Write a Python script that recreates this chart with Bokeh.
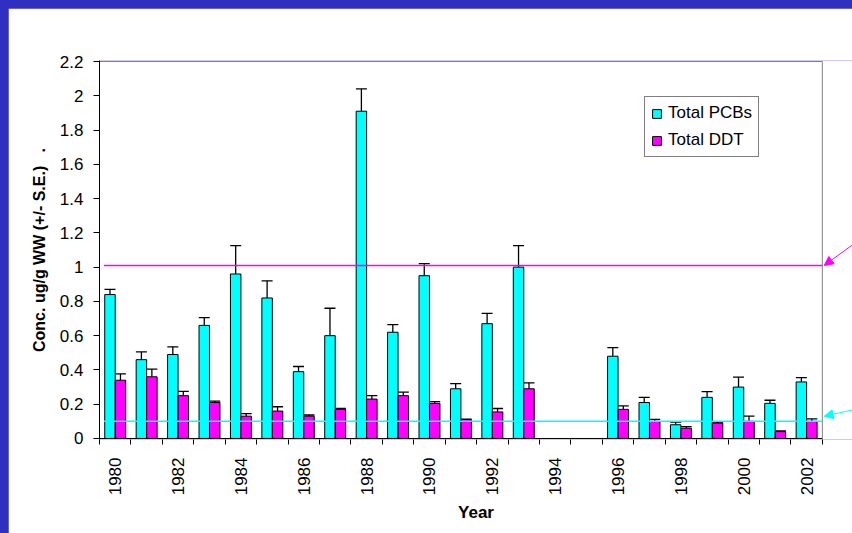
import math
from bokeh.plotting import figure
from bokeh.models import (Range1d, FixedTicker, Arrow, NormalHead, TeeHead, Whisker,
                          ColumnDataSource, GlobalInlineStyleSheet)
from bokeh.transform import dodge
from bokeh.embed import file_html
from bokeh.resources import INLINE

# ---------------- data ----------------
years = [1980, 1981, 1982, 1983, 1984, 1985, 1986, 1987, 1988, 1989, 1990,
         1991, 1992, 1993, 1996, 1997, 1998, 1999, 2000, 2001, 2002]
pcb = [0.84, 0.46, 0.49, 0.66, 0.96, 0.82, 0.39, 0.60, 1.91, 0.62, 0.95,
       0.29, 0.67, 1.00, 0.48, 0.21, 0.08, 0.24, 0.30, 0.205, 0.33]
pcb_se = [0.03, 0.045, 0.045, 0.045, 0.165, 0.10, 0.03, 0.16, 0.13, 0.045, 0.07,
          0.03, 0.06, 0.125, 0.05, 0.03, 0.015, 0.033, 0.058, 0.018, 0.025]
ddt = [0.34, 0.36, 0.25, 0.21, 0.13, 0.16, 0.13, 0.17, 0.23, 0.25, 0.205,
       0.11, 0.155, 0.29, 0.17, 0.10, 0.06, 0.09, 0.10, 0.04, 0.10]
ddt_se = [0.037, 0.045, 0.025, 0.008, 0.015, 0.025, 0.007, 0.006, 0.02, 0.02, 0.01,
          0.003, 0.02, 0.035, 0.02, 0.012, 0.009, 0.006, 0.03, 0.004, 0.014]

axis_years = list(range(1980, 2003))
label_years = [1980, 1982, 1984, 1986, 1988, 1990, 1992, 1994, 1996, 1998, 2000, 2002]
y_ticks = [0, 0.2, 0.4, 0.6, 0.8, 1, 1.2, 1.4, 1.6, 1.8, 2, 2.2]
y_tick_labels = ["0", "0.2", "0.4", "0.6", "0.8", "1", "1.2", "1.4", "1.6", "1.8", "2", "2.2"]
guide_levels = [1.01, 0.10]
series_names = ["Total PCBs", "Total DDT"]

CYAN = "#00FFFF"
MAGENTA = "#FF00FF"
FONT = "Liberation Sans"

src = ColumnDataSource(dict(
    year=years, pcb=pcb, ddt=ddt,
    pcb_hi=[v + e for v, e in zip(pcb, pcb_se)],
    ddt_hi=[v + e for v, e in zip(ddt, ddt_se)],
))

x_lo = axis_years[0] - 0.5
x_hi = axis_years[-1] + 0.5
x_end = x_lo + 23.96  # frame extends to page edge for the arrows

p = figure(width=844, height=525, output_backend="svg", toolbar_location=None,
           x_range=Range1d(x_lo, x_end), y_range=Range1d(-0.006, 2.206),
           min_border_left=91, min_border_right=0, min_border_top=52, min_border_bottom=94)
p.outline_line_color = None
p.xgrid.visible = False
p.ygrid.visible = False
p.background_fill_color = "white"
p.border_fill_color = "white"
p.stylesheets.append(GlobalInlineStyleSheet(
    css="html, body {background-color:#3030c0; overflow:hidden;} body {margin:8px 0 0 8px;}"))
p.styles = {"box-shadow": "-1px -1px 0px 0px #141450"}

# bars
bw = 1 / 3
p.vbar(x=dodge("year", -1 / 6, range=p.x_range), top="pcb", width=bw, source=src,
       fill_color=CYAN, line_color="black", line_width=1, legend_label=series_names[0])
p.vbar(x=dodge("year", 1 / 6, range=p.x_range), top="ddt", width=bw, source=src,
       fill_color=MAGENTA, line_color="black", line_width=1, legend_label=series_names[1])

# error bars (upper only)
for col, hi, off in (("pcb", "pcb_hi", -1 / 6), ("ddt", "ddt_hi", 1 / 6)):
    w = Whisker(source=src, base=dodge("year", off, range=p.x_range), lower=col, upper=hi,
                dimension="height", line_color="black", line_width=1.3,
                upper_head=TeeHead(size=11, line_color="black", line_width=1.3),
                lower_head=None)
    p.add_layout(w)

# plot frame lines (top / right in gray, bottom axis line black)
p.segment(x0=[x_lo], y0=[y_ticks[-1]], x1=[x_hi], y1=[y_ticks[-1]], line_color="#808080", line_width=1)
p.segment(x0=[x_hi], y0=[0], x1=[x_hi], y1=[y_ticks[-1]], line_color="#808080", line_width=1)

# guide lines
for lvl, col in zip(guide_levels, [MAGENTA, CYAN]):
    p.segment(x0=[x_lo + 0.14], y0=[lvl], x1=[x_hi], y1=[lvl], line_color=col, line_width=1.5)

p.segment(x0=[x_lo], y0=[0], x1=[x_hi], y1=[0], line_color="black", line_width=1)

# arrows pointing at guide lines from outside
p.add_layout(Arrow(x_start=x_end, y_start=guide_levels[0] + 0.12, x_end=x_hi + 0.06, y_end=guide_levels[0],
                   line_color=MAGENTA, line_width=1,
                   end=NormalHead(size=9, fill_color=MAGENTA, line_color=MAGENTA)))
p.add_layout(Arrow(x_start=x_end, y_start=guide_levels[1] + 0.066, x_end=x_hi + 0.06, y_end=guide_levels[1] + 0.03,
                   line_color=CYAN, line_width=1,
                   end=NormalHead(size=9, fill_color=CYAN, line_color=CYAN)))

# y axis
ya = p.yaxis[0]
ya.ticker = FixedTicker(ticks=y_ticks)
ya.major_label_overrides = dict(zip(y_ticks, y_tick_labels))
ya.major_tick_out = 6
ya.major_tick_in = 0
ya.minor_tick_out = 0
ya.minor_tick_in = 0
ya.major_label_standoff = 10
ya.major_label_text_font = FONT
ya.major_label_text_font_size = "17px"
ya.major_label_text_color = "black"
ya.axis_line_color = "black"
ya.axis_label = "Conc. ug/g WW (+/- S.E.)\u00a0\u00a0\u00a0."
ya.axis_label_text_font = FONT
ya.axis_label_text_font_size = "16px"
ya.axis_label_text_font_style = "bold"
ya.axis_label_text_color = "black"
ya.axis_label_standoff = 9

# x axis
xa = p.xaxis[0]
xa.ticker = FixedTicker(ticks=label_years, minor_ticks=[y - 0.5 for y in axis_years + [axis_years[-1] + 1]])
xa.major_label_overrides = {y: str(y) for y in label_years}
xa.major_tick_out = 0
xa.major_tick_in = 0
xa.minor_tick_out = 5
xa.minor_tick_in = 0
xa.minor_tick_line_color = "black"
xa.axis_line_color = None
xa.major_label_orientation = math.pi / 2
xa.major_label_standoff = 13
xa.major_label_text_font = FONT
xa.major_label_text_font_size = "17px"
xa.major_label_text_color = "black"
xa.axis_label = "Year"
xa.axis_label_text_font = FONT
xa.axis_label_text_font_size = "17px"
xa.axis_label_text_font_style = "bold"
xa.axis_label_text_color = "black"
xa.axis_label_standoff = 5

# legend
lg = p.legend[0]
lg.location = (545, 282)
lg.border_line_color = "black"
lg.border_line_width = 1
lg.background_fill_color = "white"
lg.background_fill_alpha = 1
lg.padding = 6
lg.spacing = 7
lg.margin = 0
lg.glyph_width = 11
lg.glyph_height = 11
lg.label_height = 20
lg.label_standoff = 6
lg.label_text_font = FONT
lg.label_text_font_size = "17px"
lg.label_text_color = "black"

open("out.html", "w").write(file_html(p, INLINE))
